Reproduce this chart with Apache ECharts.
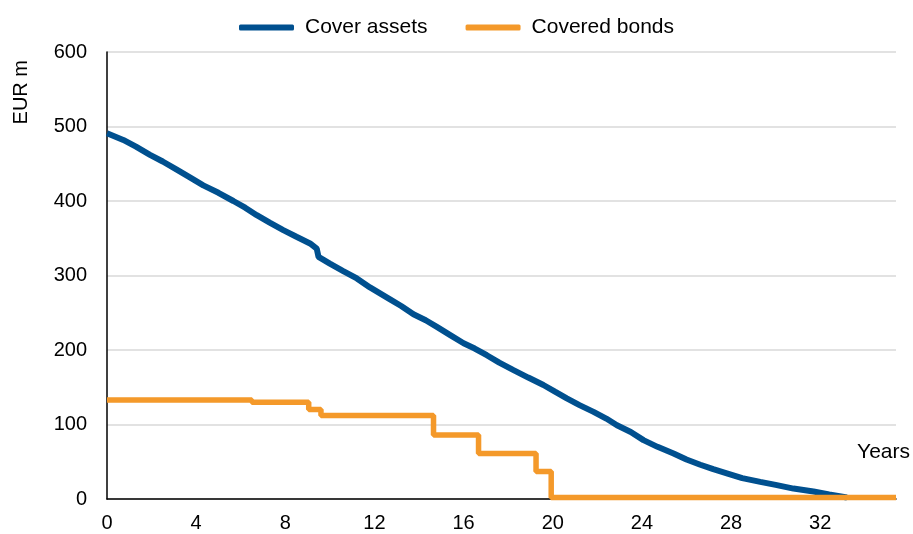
<!DOCTYPE html>
<html>
<head>
<meta charset="utf-8">
<script src="https://cdn.jsdelivr.net/npm/echarts@6/dist/echarts.min.js"></script>
<style>html,body{margin:0;padding:0;background:#fff}#c{width:913px;height:534px}</style>
</head>
<body>
<div id="c"></div>
<script>
var seriesNames = ['Cover assets', 'Covered bonds'];
// Cover assets: [years, EUR m]
var coverAssets = [
  [0, 491], [0.73, 482], [1.3, 473], [1.93, 462], [2.5, 453], [3.13, 442], [3.7, 432], [4.32, 421],
  [5.0, 411], [5.67, 400], [6.2, 391], [6.72, 381], [7.3, 371], [7.91, 361], [8.5, 352], [9.11, 343],
  [9.41, 336], [9.49, 325], [10.0, 316], [10.6, 306], [11.21, 296], [11.8, 284], [12.7, 268],
  [13.2, 259], [13.75, 248], [14.3, 240], [14.8, 231], [15.4, 220], [16.0, 209], [16.5, 202],
  [17.04, 193], [17.6, 183], [18.24, 173], [18.9, 163], [19.58, 153], [20.1, 144], [20.63, 135],
  [21.2, 126], [21.83, 117], [22.4, 108], [22.88, 99], [23.5, 90], [24.07, 79], [24.7, 70],
  [25.42, 61], [26.0, 53], [26.62, 46], [27.2, 40], [27.81, 34.5], [28.5, 28], [29.31, 23],
  [30.0, 19], [30.8, 14], [31.7, 10], [32.4, 6], [33.2, 2]
];
// Covered bonds: step points [years, EUR m]
var coveredBonds = [
  [0, 133], [6.5, 130], [9.05, 120], [9.6, 112], [14.65, 86], [16.67, 61],
  [19.25, 37], [19.93, 2], [35.4, 2]
];
var xMax = 35.4;
var xTickStep = 4;
var yTicks = [0, 100, 200, 300, 400, 500, 600];

var chart = echarts.init(document.getElementById('c'), null, {renderer: 'canvas'});
var font = 'Liberation Sans';
chart.setOption({
  animation: false,
  backgroundColor: '#fff',
  textStyle: {fontFamily: font},
  grid: {left: 107, right: 17, top: 52, bottom: 35, containLabel: false},
  legend: {
    top: 12, left: 'center',
    itemWidth: 55, itemHeight: 6, itemGap: 38,
    icon: 'roundRect',
    textStyle: {fontSize: 21, color: '#000', fontFamily: font, padding: [0, 0, 0, 6]},
    data: seriesNames
  },
  xAxis: {
    type: 'value', min: 0, max: xMax, interval: xTickStep,
    axisLine: {show: true, lineStyle: {color: '#000', width: 1.5}},
    axisTick: {show: false},
    splitLine: {show: false},
    axisLabel: {
      fontSize: 20, color: '#000', margin: 14, fontFamily: font, showMaxLabel: false,
      formatter: function (v) { return (v % xTickStep === 0) ? String(v) : ''; }
    }
  },
  yAxis: {
    type: 'value', min: yTicks[0], max: yTicks[yTicks.length - 1], interval: 100,
    axisLine: {show: true, lineStyle: {color: '#000', width: 1.5}},
    axisTick: {show: false},
    splitLine: {show: true, lineStyle: {color: '#d9d9d9', width: 1.5}},
    axisLabel: {fontSize: 20, color: '#000', margin: 20, fontFamily: font}
  },
  graphic: [
    {type: 'text', left: 11, top: 60, rotation: Math.PI / 2,
     style: {text: 'EUR m', font: '20px ' + font, fill: '#000'}},
    {type: 'text', right: 3, top: 442,
     style: {text: 'Years', font: '21px ' + font, fill: '#000'}}
  ],
  series: [
    {
      name: seriesNames[0], type: 'line', data: coverAssets, symbol: 'none', smooth: false,
      lineStyle: {color: '#00508f', width: 6}, itemStyle: {color: '#00508f'}, clip: false
    },
    {
      name: seriesNames[1], type: 'line', data: coveredBonds, symbol: 'none', step: 'end',
      lineStyle: {color: '#f4992a', width: 5.5}, itemStyle: {color: '#f4992a'}, clip: false
    }
  ]
});
</script>
</body>
</html>
